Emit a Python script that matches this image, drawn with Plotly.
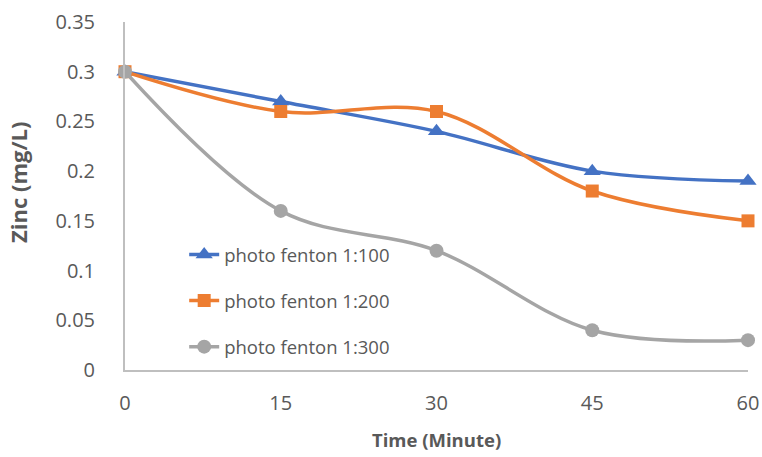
import plotly.graph_objects as go

time_min = [0, 15, 30, 45, 60]
s100 = [0.30, 0.27, 0.24, 0.20, 0.19]
s200 = [0.30, 0.26, 0.26, 0.18, 0.15]
s300 = [0.30, 0.16, 0.12, 0.04, 0.03]
names = ["photo fenton 1:100", "photo fenton 1:200", "photo fenton 1:300"]
colors = ["#4472C4", "#ED7D31", "#A5A5A5"]
symbols = ["triangle-up", "square", "circle"]
msizes = [15, 13, 14]
y_ticks = [0, 0.05, 0.1, 0.15, 0.2, 0.25, 0.3, 0.35]
y_ticktext = ["0", "0.05", "0.1", "0.15", "0.2", "0.25", "0.3", "0.35"]

fig = go.Figure()
for i, (vals, nm) in enumerate(zip([s100, s200, s300], names)):
    fig.add_trace(go.Scatter(
        x=time_min, y=vals, name=nm, mode="lines+markers",
        line=dict(color=colors[i], width=3.5, shape="spline", smoothing=1),
        marker=dict(symbol=symbols[i], size=msizes[i], color=colors[i]),
        cliponaxis=False, legendgroup=str(i),
    ))

font_fam = "Open Sans, Liberation Sans, sans-serif"
fig.update_layout(
    width=762, height=457,
    margin=dict(l=125, r=14, t=22, b=87, autoexpand=False),
    paper_bgcolor="white", plot_bgcolor="white",
    font=dict(family=font_fam, color="#595959", size=20),
    showlegend=True,
    legend=dict(x=0.095, y=0.385, xanchor="left", yanchor="top",
                bgcolor="rgba(0,0,0,0)", font=dict(size=18.5, color="#595959"),
                tracegroupgap=19),
    xaxis=dict(range=[0, 60], tickvals=time_min, ticktext=[str(t) for t in time_min],
               showgrid=False, zeroline=False, showline=True, linecolor="#BFBFBF", linewidth=2,
               ticks="", ticklabelstandoff=14, automargin=False),
    yaxis=dict(range=[0, 0.35], tickvals=y_ticks, ticktext=y_ticktext,
               showgrid=False, zeroline=False, showline=True, linecolor="#BFBFBF", linewidth=2,
               ticks="", ticklabelstandoff=24, automargin=False),
    annotations=[
        dict(text="<b>Time (Minute)</b>", xref="paper", yref="paper", x=0.5, y=-0.2,
             xanchor="center", yanchor="middle", showarrow=False,
             font=dict(size=18.5, color="#595959")),
        dict(text="<b>Zinc (mg/L)</b>", xref="paper", yref="paper", x=-0.172, y=0.54,
             xanchor="center", yanchor="middle", showarrow=False, textangle=-90,
             font=dict(size=22, color="#595959")),
    ],
)
fig.write_html("out.html")
